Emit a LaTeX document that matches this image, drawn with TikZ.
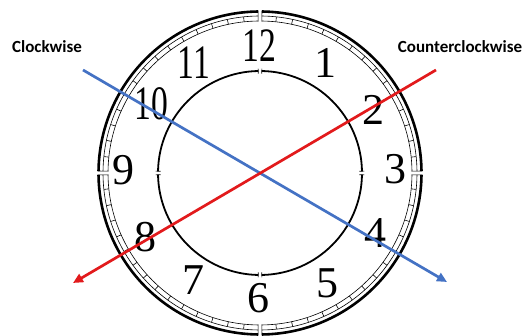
\documentclass[tikz,border=0pt]{standalone}
\usepackage{fontspec}
\setmainfont{Liberation Serif}
\newfontfamily\labelfont{Carlito}
\usetikzlibrary{arrows.meta}
\definecolor{cwblue}{RGB}{68,114,196}
\definecolor{ccwred}{RGB}{226,26,28}
\begin{document}
\begin{tikzpicture}[x=1pt,y=1pt,
  num/.style={font=\fontsize{44}{44}\selectfont, inner sep=0pt},
  bignum/.style={font=\fontsize{48}{48}\selectfont, inner sep=0pt},
  lab/.style={font=\labelfont\bfseries\fontsize{17}{17}\selectfont, inner sep=0pt},
  thickring/.style={line width=2.6pt},
  thinring/.style={line width=0.6pt},
  innerring/.style={line width=1.8pt},
  arrowline/.style={line width=2.7pt, -{Triangle[length=10pt,width=9pt]}}]
\useasboundingbox (0,0) rectangle (529,336);
\coordinate (C) at (260,163);
\begin{scope}[shift={(C)}]
  \foreach \a in {0,90,180,270}{
    % outer rings
    \draw[thickring] (\a+0.7:161.5pt) arc[start angle=\a+0.7, end angle=\a+89.3, radius=161.5pt];
    \draw[thinring] (\a+0.7:157pt) arc[start angle=\a+0.7, end angle=\a+89.3, radius=157pt];
    \draw[thinring] (\a+0.7:152pt) arc[start angle=\a+0.7, end angle=\a+89.3, radius=152pt];
    \draw[thinring] (\a+0.7:151.5pt) -- (\a+0.7:162.5pt);
    \draw[thinring] (\a-0.7:151.5pt) -- (\a-0.7:162.5pt);
    % minute ticks
    \foreach \m in {6,12,...,84}{
      \draw[thinring] (\a+\m:152pt) -- (\a+\m:157pt);
    }
    % inner ring
    \draw[innerring] (\a+1:102pt) arc[start angle=\a+1, end angle=\a+89, radius=102pt];
    \draw[thinring] (\a+1:99.5pt) -- (\a+1:104.5pt);
    \draw[thinring] (\a-1:99.5pt) -- (\a-1:104.5pt);
  }
\end{scope}
% numerals
\node[bignum] (n12) at (259,290) {\scalebox{0.7}[1]{12}};
\node[num] (n1) at (325,273) {1};
\node[num] (n2) at (373,226) {2};
\node[num] (n3) at (395,167) {3};
\node[num] (n4) at (375,103) {4};
\node[num] (n5) at (327,53) {5};
\node[num] (n6) at (258,38) {6};
\node[num] (n7) at (193,56) {7};
\node[num] (n8) at (145,99) {8};
\node[num] (n9) at (123,166) {9};
\node[bignum] (n10) at (151,232) {\scalebox{0.7}[1]{10}};
\node[bignum] (n11) at (194,273) {\scalebox{0.7}[1]{11}};
% arrows
\coordinate (b1) at (83,266);
\coordinate (b2) at (447,54);
\coordinate (r1) at (436,266);
\coordinate (r2) at (73,53);
\draw[arrowline, cwblue] (b1) -- (b2);
\draw[arrowline, ccwred] (r1) -- (r2);
% labels
\node[lab] (cw) at (47,289) {Clockwise};
\node[lab] (ccw) at (460,289) {Counterclockwise};
\end{tikzpicture}
\end{document}
